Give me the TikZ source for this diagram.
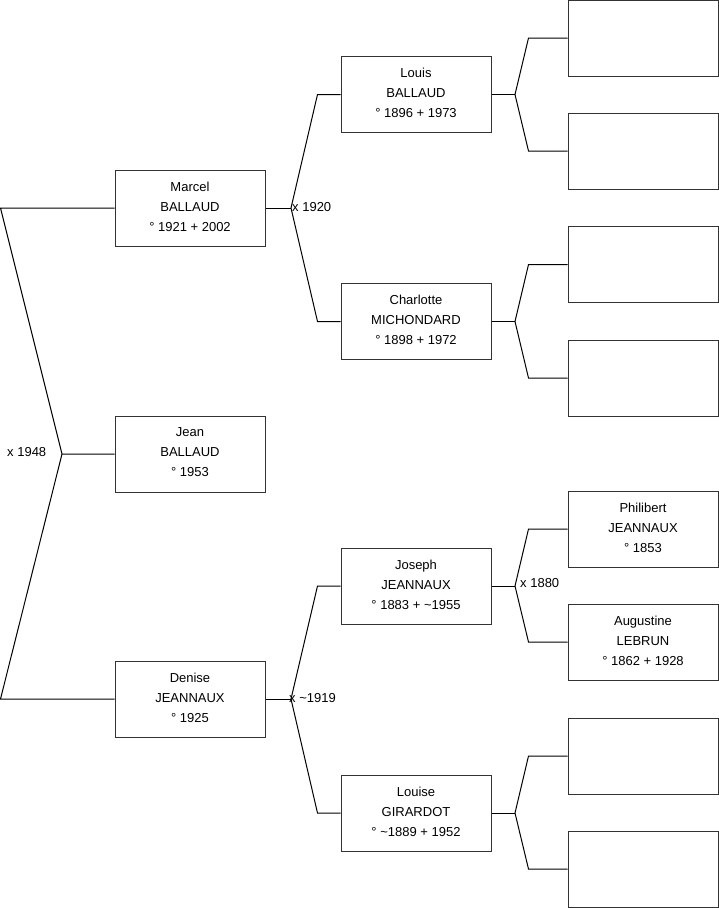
\documentclass[tikz,border=0pt]{standalone}
\usepackage{fontspec}
\setmainfont{Liberation Sans}
\usetikzlibrary{positioning}

\begin{document}
\begin{tikzpicture}[
                x=1pt, y=-1pt,
                person/.style={rectangle, draw=black!80, line width=1pt, minimum width=150pt, minimum height=76pt, inner sep=0pt, text depth=3pt, align=center, font=\fontsize{13}{20}\selectfont},
                link/.style={draw=black, line width=1pt},
                union/.style={anchor=west, inner sep=0pt, font=\fontsize{13}{14}\selectfont}
            ]
                \useasboundingbox (0,0) rectangle (719,908);

                % Generation 1
                \node [person] (P_marcel) at (190,208) {Marcel\\BALLAUD\\° 1921 + 2002};
                \node [person] (P_jean) at (190,454) {Jean\\BALLAUD\\° 1953};
                \node [person] (P_denise) at (190,699) {Denise\\JEANNAUX\\° 1925};

                % Generation 2
                \node [person] (P_louis) at (416,94.5) {Louis\\BALLAUD\\° 1896 + 1973};
                \node [person] (P_charlotte) at (416,321.5) {Charlotte\\MICHONDARD\\° 1898 + 1972};
                \node [person] (P_joseph) at (416,586) {Joseph\\JEANNAUX\\° 1883 + \textasciitilde1955};
                \node [person] (P_louise) at (416,813) {Louise\\GIRARDOT\\° \textasciitilde1889 + 1952};

                % Generation 3
                \node [person] (P_g1) at (643,38) {};
                \node [person] (P_g2) at (643,151) {};
                \node [person] (P_g3) at (643,264.5) {};
                \node [person] (P_g4) at (643,378) {};
                \node [person] (P_philibert) at (643,529) {Philibert\\JEANNAUX\\° 1853};
                \node [person] (P_augustine) at (643,642) {Augustine\\LEBRUN\\° 1862 + 1928};
                \node [person] (P_g7) at (643,756) {};
                \node [person] (P_g8) at (643,869) {};

                % Forks
                \coordinate (F_jean) at (62,454);
                \coordinate (F_marcel) at (291,208);
                \coordinate (F_denise) at (291,699);
                \coordinate (F_louis) at (515,94.5);
                \coordinate (F_charlotte) at (515,321.5);
                \coordinate (F_joseph) at (515,586);
                \coordinate (F_louise) at (515,813);

                % Edges
                \path [link] (P_marcel.west) -- +(-114,0) -- (F_jean) -- (P_jean.west);
                \path [link] (P_denise.west) -- +(-114,0) -- (F_jean);

                \path [link] (P_marcel.east) -- (F_marcel);
                \path [link] (P_louis.west) -- +(-23,0) -- (F_marcel) -- ([xshift=-23pt]P_charlotte.west) -- (P_charlotte.west);
                \path [link] (P_denise.east) -- (F_denise);
                \path [link] (P_joseph.west) -- +(-23,0) -- (F_denise) -- ([xshift=-23pt]P_louise.west) -- (P_louise.west);

                \path [link] (P_louis.east) -- (F_louis);
                \path [link] (P_g1.west) -- +(-39,0) -- (F_louis) -- ([xshift=-39pt]P_g2.west) -- (P_g2.west);
                \path [link] (P_charlotte.east) -- (F_charlotte);
                \path [link] (P_g3.west) -- +(-39,0) -- (F_charlotte) -- ([xshift=-39pt]P_g4.west) -- (P_g4.west);
                \path [link] (P_joseph.east) -- (F_joseph);
                \path [link] (P_philibert.west) -- +(-39,0) -- (F_joseph) -- ([xshift=-39pt]P_augustine.west) -- (P_augustine.west);
                \path [link] (P_louise.east) -- (F_louise);
                \path [link] (P_g7.west) -- +(-39,0) -- (F_louise) -- ([xshift=-39pt]P_g8.west) -- (P_g8.west);

                % Marriages
                \node [union] (U_1948) at (7,452) {x 1948};
                \node [union] (U_1920) at (292,207) {x 1920};
                \node [union] (U_1919) at (289,698) {x \textasciitilde1919};
                \node [union] (U_1880) at (520,583) {x 1880};

            \end{tikzpicture}
\end{document}
